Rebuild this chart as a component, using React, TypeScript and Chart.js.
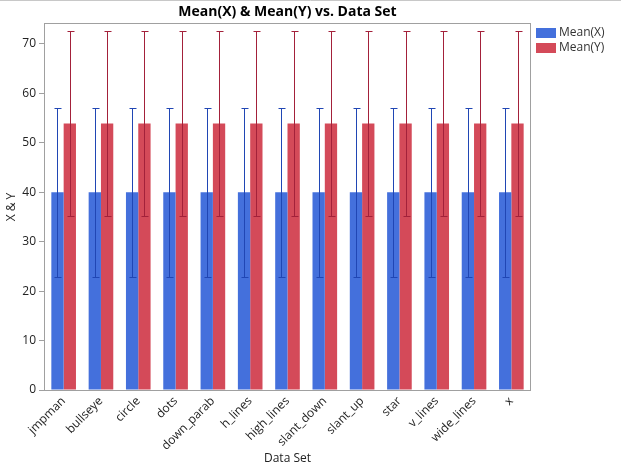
import { useEffect, useRef } from 'react';
import { Chart, registerables } from 'chart.js';

Chart.register(...registerables);

const categories = ['jmpman', 'bullseye', 'circle', 'dots', 'down_parab', 'h_lines', 'high_lines', 'slant_down', 'slant_up', 'star', 'v_lines', 'wide_lines', 'x'];
const meanX = [40.0, 40.0, 40.0, 40.0, 40.0, 40.0, 40.0, 40.0, 40.0, 40.0, 40.0, 40.0, 40.0];
const meanY = [53.9, 53.9, 53.9, 53.9, 53.9, 53.9, 53.9, 53.9, 53.9, 53.9, 53.9, 53.9, 53.9];
const errX = [17.1, 17.1, 17.1, 17.1, 17.1, 17.1, 17.1, 17.1, 17.1, 17.1, 17.1, 17.1, 17.1];
const errY = [18.7, 18.7, 18.7, 18.7, 18.7, 18.7, 18.7, 18.7, 18.7, 18.7, 18.7, 18.7, 18.7];
const yTickValues = [0, 10, 20, 30, 40, 50, 60, 70];
const seriesNames = ['Mean(X)', 'Mean(Y)'];
const titleText = 'Mean(X) & Mean(Y) vs. Data Set';

const FONT = "'Open Sans', 'DejaVu Sans', sans-serif";
const barColors = ['#4470DC', '#D44A59'];
const errColors = ['#2046B4', '#A3213A'];
const errs = [errX, errY];
const means = [meanX, meanY];

export default function App() {
  const ref = useRef<HTMLCanvasElement | null>(null);
  useEffect(() => {
    document.body.style.margin = '0';
    const canvas = ref.current;
    if (!canvas) return;

    const decor = {
      id: 'decor',
      afterDatasetsDraw(chart: any) {
        const ctx = chart.ctx;
        const y = chart.scales.y;
        ctx.save();
        for (let d = 0; d < 2; d++) {
          const meta = chart.getDatasetMeta(d);
          ctx.strokeStyle = errColors[d];
          ctx.lineWidth = 1;
          meta.data.forEach((el: any, j: number) => {
            const x = Math.round(el.x) + 0.5;
            const hi = Math.round(y.getPixelForValue(means[d][j] + errs[d][j])) + 0.5;
            const lo = Math.round(y.getPixelForValue(means[d][j] - errs[d][j])) + 0.5;
            ctx.beginPath();
            ctx.moveTo(x, hi);
            ctx.lineTo(x, lo);
            ctx.moveTo(x - 3, hi);
            ctx.lineTo(x + 4, hi);
            ctx.moveTo(x - 3, lo);
            ctx.lineTo(x + 4, lo);
            ctx.stroke();
          });
        }
        ctx.restore();
      },
      afterDraw(chart: any) {
        const ctx = chart.ctx;
        const a = chart.chartArea;
        ctx.save();
        ctx.strokeStyle = '#A0A0A0';
        ctx.lineWidth = 1;
        ctx.strokeRect(Math.round(a.left) - 0.5, Math.round(a.top) - 0.5, Math.round(a.right - a.left) + 1, Math.round(a.bottom - a.top) + 1);
        ctx.strokeStyle = '#C8C8C8';
        ctx.beginPath();
        ctx.moveTo(0, 0.5);
        ctx.lineTo(chart.width, 0.5);
        ctx.stroke();
        ctx.fillStyle = '#000';
        ctx.font = `bold 14px ${FONT}`;
        ctx.textAlign = 'center';
        ctx.textBaseline = 'middle';
        ctx.fillText(titleText, (a.left + a.right) / 2, 12);
        ctx.font = `12px ${FONT}`;
        ctx.textAlign = 'left';
        for (let i = 0; i < seriesNames.length; i++) {
          const ly = 28 + i * 15;
          ctx.fillStyle = barColors[i];
          ctx.fillRect(a.right + 6, ly, 20, 10);
          ctx.fillStyle = '#333';
          ctx.fillText(seriesNames[i], a.right + 29, ly + 5);
        }
        ctx.restore();
      },
    };

    const chart = new Chart(canvas, {
      type: 'bar',
      data: {
        labels: categories,
        datasets: [
          { label: seriesNames[0], data: meanX, backgroundColor: barColors[0], borderWidth: 0, categoryPercentage: 0.66, barPercentage: 1.0 },
          { label: seriesNames[1], data: meanY, backgroundColor: barColors[1], borderWidth: 0, categoryPercentage: 0.66, barPercentage: 1.0 },
        ],
      },
      options: {
        responsive: false,
        animation: false,
        devicePixelRatio: 1,
        layout: { padding: { top: 24, right: 91, left: 0, bottom: 0 } },
        plugins: {
          legend: { display: false },
          title: { display: false },
          tooltip: { enabled: false },
        },
        scales: {
          x: {
            grid: { display: false, drawTicks: false },
            border: { display: false },
            ticks: {
              minRotation: 45,
              maxRotation: 45,
              autoSkip: false,
              padding: 4,
              color: '#222',
              font: { family: FONT, size: 12 },
            },
            title: {
              display: true,
              text: 'Data Set',
              color: '#222',
              padding: { top: 4, bottom: 2 },
              font: { family: FONT, size: 12 },
            },
            afterFit(scale: any) {
              scale.height = 78;
            },
          },
          y: {
            min: 0,
            max: 74,
            grid: { drawOnChartArea: false, drawTicks: true, tickLength: 6, color: '#A0A0A0' },
            border: { display: false },
            afterBuildTicks(scale: any) {
              scale.ticks = yTickValues.map((v) => ({ value: v }));
            },
            ticks: {
              padding: 3,
              color: '#222',
              font: { family: FONT, size: 12 },
            },
            title: {
              display: true,
              text: 'X & Y',
              color: '#222',
              padding: { top: 4, bottom: 4 },
              font: { family: FONT, size: 12 },
            },
            afterFit(scale: any) {
              scale.width = 45;
            },
          },
        },
      },
      plugins: [decor],
    });
    return () => chart.destroy();
  }, []);

  return (
    <div style={{ width: 621, height: 468, background: '#fff' }}>
      <canvas ref={ref} width={621} height={468} style={{ display: 'block' }} />
    </div>
  );
}
